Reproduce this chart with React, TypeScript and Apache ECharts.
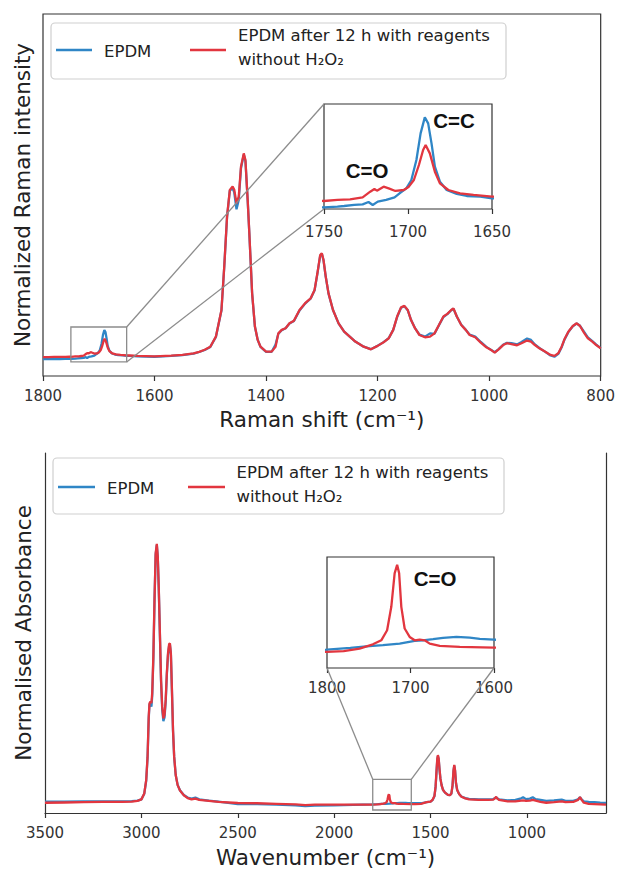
import React, { useEffect, useRef } from "react";
import * as echarts from "echarts";

// ---------------- Raman (top panel) ----------------
const ramanShift = [
  1800, 1790, 1780, 1770, 1760, 1752,
  1645, 1630, 1600, 1570, 1550, 1530, 1520, 1510, 1500, 1490, 1480, 1475, 1470, 1465,
  1460, 1457, 1453, 1449, 1445, 1440, 1437, 1433, 1430, 1425, 1420, 1415, 1410, 1400,
  1390, 1383, 1378, 1372, 1365, 1358, 1350, 1340, 1330, 1320, 1313, 1308, 1303, 1300,
  1297, 1293, 1288, 1280, 1270, 1260, 1250, 1240, 1225, 1212, 1200, 1190, 1180, 1172,
  1165, 1158, 1152, 1146, 1140, 1133, 1125, 1115, 1106, 1098, 1090, 1082, 1075, 1068,
  1064, 1058, 1050, 1042, 1035, 1025, 1015, 1005, 995, 990, 983, 975, 968, 960,
  950, 942, 932, 925, 918, 910, 900, 890, 883, 876, 870, 865, 858, 850,
  843, 837, 830, 823, 815, 808, 800,
];
const ramanTreated = [
  0.004, 0.004, 0.005, 0.005, 0.005, 0.006,
  0.012, 0.010, 0.008, 0.011, 0.015, 0.022, 0.030, 0.040, 0.055, 0.104, 0.234, 0.446, 0.689, 0.820,
  0.836, 0.820, 0.754, 0.787, 0.933, 0.998, 0.966, 0.771, 0.608, 0.315, 0.153, 0.088, 0.055, 0.031,
  0.031, 0.055, 0.120, 0.137, 0.145, 0.169, 0.182, 0.234, 0.267, 0.291, 0.332, 0.413, 0.502, 0.511,
  0.478, 0.397, 0.315, 0.234, 0.169, 0.128, 0.104, 0.080, 0.055, 0.042, 0.059, 0.075, 0.096, 0.137,
  0.202, 0.247, 0.254, 0.234, 0.185, 0.145, 0.112, 0.101, 0.104, 0.120, 0.161, 0.202, 0.215, 0.234,
  0.242, 0.202, 0.161, 0.137, 0.112, 0.101, 0.075, 0.052, 0.036, 0.026, 0.042, 0.063, 0.072, 0.067,
  0.062, 0.072, 0.085, 0.080, 0.063, 0.047, 0.031, 0.015, 0.010, 0.023, 0.055, 0.091, 0.128, 0.156,
  0.169, 0.156, 0.124, 0.096, 0.080, 0.063, 0.047,
];
const ramanEpdm = [
  -0.006, -0.006, -0.005, -0.005, -0.004, -0.004,
  0.010, 0.008, 0.006, 0.010, 0.014, 0.021, 0.029, 0.039, 0.054, 0.102, 0.232, 0.444, 0.686, 0.816,
  0.830, 0.806, 0.725, 0.771, 0.925, 0.992, 0.960, 0.770, 0.606, 0.314, 0.152, 0.088, 0.054, 0.030,
  0.030, 0.065, 0.118, 0.135, 0.145, 0.168, 0.180, 0.232, 0.265, 0.290, 0.330, 0.410, 0.498, 0.508,
  0.476, 0.396, 0.314, 0.234, 0.169, 0.128, 0.104, 0.080, 0.055, 0.043, 0.060, 0.076, 0.097, 0.137,
  0.200, 0.245, 0.252, 0.233, 0.185, 0.146, 0.114, 0.104, 0.120, 0.118, 0.160, 0.200, 0.214, 0.233,
  0.240, 0.202, 0.162, 0.138, 0.114, 0.104, 0.078, 0.054, 0.037, 0.028, 0.043, 0.064, 0.074, 0.072,
  0.066, 0.078, 0.095, 0.088, 0.066, 0.049, 0.031, 0.012, 0.006, 0.020, 0.052, 0.089, 0.126, 0.155,
  0.168, 0.157, 0.128, 0.100, 0.082, 0.065, 0.048,
];
// zoomed region 1750 - 1650 cm-1
const ramanDetailShiftEpdm = [
  1750, 1742, 1738, 1732, 1727, 1723.5, 1721, 1718, 1713, 1708, 1705, 1701, 1698, 1695,
  1692.5, 1690, 1688, 1686, 1684, 1681, 1677, 1671, 1665, 1657, 1650,
];
const ramanDetailEpdm = [
  -0.0041, -0.003, -0.002, -0.0004, 0.0006, 0.0043, -0.0004, 0.0048, 0.0074, 0.0115, 0.0178, 0.0255, 0.0385, 0.0697,
  0.1112, 0.1361, 0.1268, 0.0956, 0.0593, 0.0359, 0.0229, 0.0167, 0.0136, 0.0126, 0.01,
];
const ramanDetailShiftTreated = [
  1750, 1742, 1734.5, 1727, 1722.5, 1720, 1718.5, 1714.5, 1711.5, 1707.5, 1702.5, 1699.5, 1696.5,
  1693.5, 1691, 1689.5, 1687, 1684, 1681, 1676, 1669, 1661, 1650,
];
const ramanDetailTreated = [
  0.0058, 0.0074, 0.0084, 0.0115, 0.0203, 0.0245, 0.0219, 0.0281, 0.0255, 0.0214, 0.0229, 0.0281, 0.0385,
  0.0619, 0.0852, 0.093, 0.08, 0.0515, 0.0333, 0.0229, 0.0178, 0.0152, 0.0126,
];
const ramanTicks = [1800, 1600, 1400, 1200, 1000, 800];
const ramanInsetTicks = [1750, 1700, 1650];
const ramanZoomShift = [1750, 1650];
const ramanZoomIntensity = [-0.0195, 0.151];

// ---------------- FTIR (bottom panel) ----------------
const ftirWavenumber = [
  3500, 3400, 3300, 3200, 3100, 3050, 3020, 3000, 2985, 2975, 2968, 2962, 2958, 2953,
  2948, 2944, 2938, 2932, 2926, 2920, 2915, 2910, 2904, 2898, 2892, 2886, 2880, 2874,
  2868, 2862, 2856, 2852, 2847, 2842, 2836, 2830, 2822, 2812, 2800, 2780, 2760, 2740,
  2720, 2700, 2650, 2600, 2500, 2400, 2300, 2200, 2150, 2100, 2000, 1900, 1850,
  1580, 1550, 1520, 1500, 1490, 1480, 1474, 1469, 1465, 1462, 1458, 1454, 1449, 1443,
  1435, 1425, 1410, 1400, 1392, 1386, 1381, 1377, 1373, 1368, 1362, 1352, 1340, 1320,
  1300, 1250, 1200, 1175, 1165, 1160, 1155, 1145, 1100, 1060, 1030, 1020, 1005, 985,
  970, 955, 930, 900, 860, 820, 800, 760, 735, 725, 718, 705, 680, 650, 620, 590,
];
const ftirTreated = [
  0.001, 0.002, 0.003, 0.004, 0.004, 0.005, 0.008, 0.014, 0.037, 0.089, 0.179, 0.333, 0.385, 0.391,
  0.385, 0.423, 0.565, 0.784, 0.964, 1.0, 0.951, 0.835, 0.655, 0.475, 0.372, 0.327, 0.34, 0.398,
  0.501, 0.578, 0.614, 0.616, 0.578, 0.449, 0.282, 0.179, 0.108, 0.069, 0.048, 0.03, 0.019, 0.014,
  0.017, 0.012, 0.008, 0.004, 0.0, -0.001, -0.003, -0.005, -0.008, -0.006, -0.006, -0.006, -0.006,
  -0.004, -0.003, 0.003, 0.005, 0.012, 0.027, 0.063, 0.127, 0.172, 0.185, 0.172, 0.134, 0.095, 0.069,
  0.05, 0.04, 0.031, 0.03, 0.037, 0.069, 0.127, 0.147, 0.127, 0.076, 0.05, 0.035, 0.024, 0.018,
  0.014, 0.012, 0.012, 0.013, 0.019, 0.024, 0.018, 0.012, 0.006, 0.006, 0.009, 0.01, 0.008, 0.009,
  0.012, 0.009, 0.004, 0.001, 0.003, 0.006, 0.003, 0.004, 0.012, 0.023, 0.014, 0.001, -0.003, -0.004, -0.005, -0.006,
];
const ftirEpdm = [
  0.005, 0.005, 0.006, 0.006, 0.006, 0.007, 0.009, 0.014, 0.036, 0.086, 0.175, 0.325, 0.38, 0.387,
  0.372, 0.41, 0.555, 0.778, 0.958, 0.996, 0.948, 0.83, 0.65, 0.468, 0.36, 0.316, 0.33, 0.39,
  0.495, 0.572, 0.608, 0.611, 0.574, 0.445, 0.28, 0.178, 0.108, 0.07, 0.049, 0.031, 0.021, 0.017,
  0.021, 0.014, 0.009, 0.005, -0.004, -0.004, -0.006, -0.009, -0.012, -0.01, -0.009, -0.007, -0.006,
  -0.001, -0.001, 0.003, 0.005, 0.011, 0.026, 0.06, 0.122, 0.168, 0.181, 0.17, 0.133, 0.095, 0.069,
  0.05, 0.04, 0.031, 0.03, 0.036, 0.066, 0.123, 0.144, 0.125, 0.076, 0.05, 0.035, 0.025, 0.019,
  0.016, 0.014, 0.014, 0.015, 0.019, 0.022, 0.018, 0.014, 0.01, 0.012, 0.018, 0.022, 0.015, 0.017,
  0.022, 0.015, 0.012, 0.008, 0.01, 0.013, 0.008, 0.008, 0.014, 0.022, 0.015, 0.006, 0.004, 0.003, 0.001, 0.0,
];
// zoomed region 1800 - 1600 cm-1
const ftirDetailWavenumberEpdm = [1800, 1772, 1753, 1733, 1713, 1695, 1685, 1673, 1661, 1645, 1629, 1617, 1600];
const ftirDetailEpdm = [-0.005, -0.0042, -0.0035, -0.003, -0.0023, -0.0011, -0.0008, -0.0003, 0.0003, 0.0007, 0.0004, -0.0002, -0.0005];
const ftirDetailWavenumberTreated = [
  1800, 1780, 1761, 1745, 1735, 1728, 1723, 1719, 1716, 1713.6, 1711, 1707, 1701, 1695,
  1689, 1683, 1677, 1665, 1641, 1600,
];
const ftirDetailTreated = [
  -0.006, -0.0056, -0.0045, -0.0026, -0.0008, 0.0037, 0.0142, 0.0292, 0.033, 0.0292, 0.0142, 0.0045, 0.0007, -0.0008,
  -0.0005, -0.0008, -0.0023, -0.0033, -0.0037, -0.0041,
];
const ftirTicks = [3500, 3000, 2500, 2000, 1500, 1000];
const ftirInsetTicks = [1800, 1700, 1600];
const ftirZoomWavenumber = [1800, 1600];
const ftirZoomAbsorbance = [-0.027, 0.0915];

const NAME_EPDM = "EPDM";
const NAME_TREATED = "EPDM after 12 h with reagents without H₂O₂";

const BLUE = "#2f86c6";
const RED = "#e2363f";
const FRAME = "#333333";
const FONT = "DejaVu Sans";

function merge(xa: number[], ya: number[], xb: number[], yb: number[]) {
  const pts = xa.map((x, i) => [x, ya[i]]).concat(xb.map((x, i) => [x, yb[i]]));
  pts.sort((p, q) => q[0] - p[0]);
  return pts;
}

export default function App() {
  const ref = useRef<HTMLDivElement>(null);

  useEffect(() => {
    if (!ref.current) return;
    const chart = echarts.init(ref.current, undefined, { renderer: "svg" });

    const ramanBlue = merge(ramanShift, ramanEpdm, ramanDetailShiftEpdm, ramanDetailEpdm);
    const ramanRed = merge(ramanShift, ramanTreated, ramanDetailShiftTreated, ramanDetailTreated);
    const ftirBlue = merge(ftirWavenumber, ftirEpdm, ftirDetailWavenumberEpdm, ftirDetailEpdm);
    const ftirRed = merge(ftirWavenumber, ftirTreated, ftirDetailWavenumberTreated, ftirDetailTreated);

    const tickLabel = {
      color: "#333", fontFamily: FONT, fontSize: 15, showMinLabel: true, showMaxLabel: true,
      formatter: (v: number) => String(v),
    };
    const titleStyle = { color: "#222", fontFamily: FONT, fontSize: 21.5 };
    const tick = { show: true, inside: false, length: 5, lineStyle: { color: FRAME, width: 1.2 } };
    const hiddenY = {
      type: "value",
      axisLine: { show: false },
      axisTick: { show: false },
      axisLabel: { show: false },
      splitLine: { show: false },
    };

    const mkLine = (name: string, data: number[][], color: string, xi: number, yi: number) => ({
      type: "line",
      name,
      xAxisIndex: xi,
      yAxisIndex: yi,
      data,
      showSymbol: false,
      symbol: "none",
      clip: true,
      lineStyle: { color, width: 2.3 },
      itemStyle: { color },
      z: color === RED ? 3 : 2,
    });

    const option: any = {
      animation: false,
      textStyle: { fontFamily: FONT },
      grid: [
        { left: 43, top: 14, width: 561, height: 362, show: true, borderColor: FRAME, borderWidth: 1.2, backgroundColor: "transparent" },
        { left: 324, top: 104, width: 168, height: 105, show: true, borderColor: FRAME, borderWidth: 1.2, backgroundColor: "transparent" },
        { left: 45, top: 453, width: 561, height: 360, show: false },
        { left: 327, top: 557, width: 167, height: 111, show: true, borderColor: FRAME, borderWidth: 1.2, backgroundColor: "transparent" },
      ],
      xAxis: [
        {
          type: "value", gridIndex: 0, inverse: true, min: 800, max: 1800, interval: 200,
          axisLine: { show: false, onZero: false }, axisTick: tick, splitLine: { show: false },
          axisLabel: { ...tickLabel, margin: 12, customValues: ramanTicks },
          name: "Raman shift (cm⁻¹)", nameLocation: "middle", nameGap: 32, nameTextStyle: titleStyle,
        },
        {
          type: "value", gridIndex: 1, inverse: true, min: 1650, max: 1750, interval: 50,
          axisLine: { show: false, onZero: false }, axisTick: tick, splitLine: { show: false },
          axisLabel: { ...tickLabel, margin: 15, customValues: ramanInsetTicks },
        },
        {
          type: "value", gridIndex: 2, inverse: true, min: 590, max: 3500,
          axisLine: { show: true, onZero: false, lineStyle: { color: FRAME, width: 1.2 } },
          axisTick: { ...tick, customValues: ftirTicks }, splitLine: { show: false },
          axisLabel: { ...tickLabel, margin: 12, customValues: ftirTicks },
          name: "Wavenumber (cm⁻¹)", nameLocation: "middle", nameGap: 33, nameTextStyle: titleStyle,
        },
        {
          type: "value", gridIndex: 3, inverse: true, min: 1600, max: 1800, interval: 100,
          axisLine: { show: false, onZero: false }, axisTick: tick, splitLine: { show: false },
          axisLabel: { ...tickLabel, margin: 12, customValues: ftirInsetTicks },
        },
      ],
      yAxis: [
        {
          ...hiddenY, gridIndex: 0, min: -0.088, max: 1.678,
          name: "Normalized Raman intensity", nameLocation: "middle", nameGap: 10, nameTextStyle: titleStyle,
        },
        { ...hiddenY, gridIndex: 1, min: -0.0067, max: 0.157 },
        {
          ...hiddenY, gridIndex: 2, min: -0.0386, max: 1.351,
          axisLine: { show: true, onZero: false, lineStyle: { color: FRAME, width: 1.2 } },
          name: "Normalised Absorbance", nameLocation: "middle", nameGap: 11, nameTextStyle: titleStyle,
        },
        { ...hiddenY, gridIndex: 3, min: -0.0132, max: 0.0365 },
        {
          ...hiddenY, gridIndex: 2, min: -0.0386, max: 1.351, position: "right",
          axisLine: { show: true, onZero: false, lineStyle: { color: FRAME, width: 1.2 } },
        },
      ],
      series: [
        mkLine(NAME_EPDM, ramanBlue, BLUE, 0, 0),
        mkLine(NAME_TREATED, ramanRed, RED, 0, 0),
        mkLine(NAME_EPDM, ramanBlue, BLUE, 1, 1),
        mkLine(NAME_TREATED, ramanRed, RED, 1, 1),
        mkLine(NAME_EPDM, ftirBlue, BLUE, 2, 2),
        mkLine(NAME_TREATED, ftirRed, RED, 2, 2),
        mkLine(NAME_EPDM, ftirBlue, BLUE, 3, 3),
        mkLine(NAME_TREATED, ftirRed, RED, 3, 3),
      ],
    };
    chart.setOption(option);

    const px = (xi: number, yi: number, v: number[]) =>
      chart.convertToPixel({ xAxisIndex: xi, yAxisIndex: yi } as any, v) as number[];

    // zoom boxes
    const rTL = px(0, 0, [ramanZoomShift[0], ramanZoomIntensity[1]]);
    const rBR = px(0, 0, [ramanZoomShift[1], ramanZoomIntensity[0]]);
    const riTL = px(1, 1, [1750, 0.157]);
    const riBL = px(1, 1, [1750, -0.0067]);
    const fTL = px(2, 2, [ftirZoomWavenumber[0], ftirZoomAbsorbance[1]]);
    const fBR = px(2, 2, [ftirZoomWavenumber[1], ftirZoomAbsorbance[0]]);
    const fiBL = px(3, 3, [1800, -0.0132]);
    const fiBR = px(3, 3, [1600, -0.0132]);

    const gray = { stroke: "#8c8c8c", lineWidth: 1.3, fill: "none" };
    const ln = (a: number[], b: number[]) => ({
      type: "line", silent: true, z: 4,
      shape: { x1: a[0], y1: a[1], x2: b[0], y2: b[1] }, style: { ...gray },
    });
    const box = (a: number[], b: number[]) => ({
      type: "rect", silent: true, z: 4,
      shape: { x: a[0], y: a[1], width: b[0] - a[0], height: b[1] - a[1] }, style: { ...gray },
    });

    const legendText = (text: string, x: number, y: number) => ({
      type: "text", z: 21, x, y,
      style: { text, fill: "#222", fontFamily: FONT, fontSize: 16.5, verticalAlign: "middle", align: "left" },
    });
    const legendLine = (x1: number, x2: number, y: number, color: string) => ({
      type: "line", z: 21, shape: { x1, y1: y, x2, y2: y }, style: { stroke: color, lineWidth: 2.6 },
    });
    const legendBox = (x: number, y: number, w: number, h: number) => ({
      type: "rect", z: 20, shape: { x, y, width: w, height: h, r: 4 },
      style: { fill: "rgba(255,255,255,0.9)", stroke: "#cfcfcf", lineWidth: 1.2 },
    });
    const peakLabel = (text: string, x: number, y: number) => ({
      type: "text", z: 30, x, y,
      style: { text, fill: "#111", fontFamily: "Liberation Sans", fontWeight: "bold", fontSize: 20.5, align: "center", verticalAlign: "middle" },
    });

    chart.setOption({
      graphic: {
        elements: [
          box(rTL, rBR),
          ln([rBR[0], rTL[1]], riTL),
          ln(rBR, riBL),
          box(fTL, fBR),
          ln(fTL, fiBL),
          ln([fBR[0], fTL[1]], fiBR),
          legendBox(51, 23, 455, 56),
          legendLine(56, 92, 50, BLUE),
          legendText("EPDM", 104, 51),
          legendLine(190, 226, 50, RED),
          legendText("EPDM after 12 h with reagents", 238, 35),
          legendText("without H₂O₂", 238, 59),
          legendBox(53, 458, 451, 56),
          legendLine(58, 95, 487, BLUE),
          legendText("EPDM", 107, 488),
          legendLine(188, 225, 487, RED),
          legendText("EPDM after 12 h with reagents", 236.5, 472),
          legendText("without H₂O₂", 236.5, 496),
          peakLabel("C=C", 454, 120),
          peakLabel("C=O", 367, 170),
          peakLabel("C=O", 435, 578),
        ],
      },
    });

    return () => chart.dispose();
  }, []);

  return (
    <div
      ref={ref}
      style={{ position: "fixed", left: 0, top: 0, width: 618, height: 872, background: "#fff" }}
    />
  );
}
